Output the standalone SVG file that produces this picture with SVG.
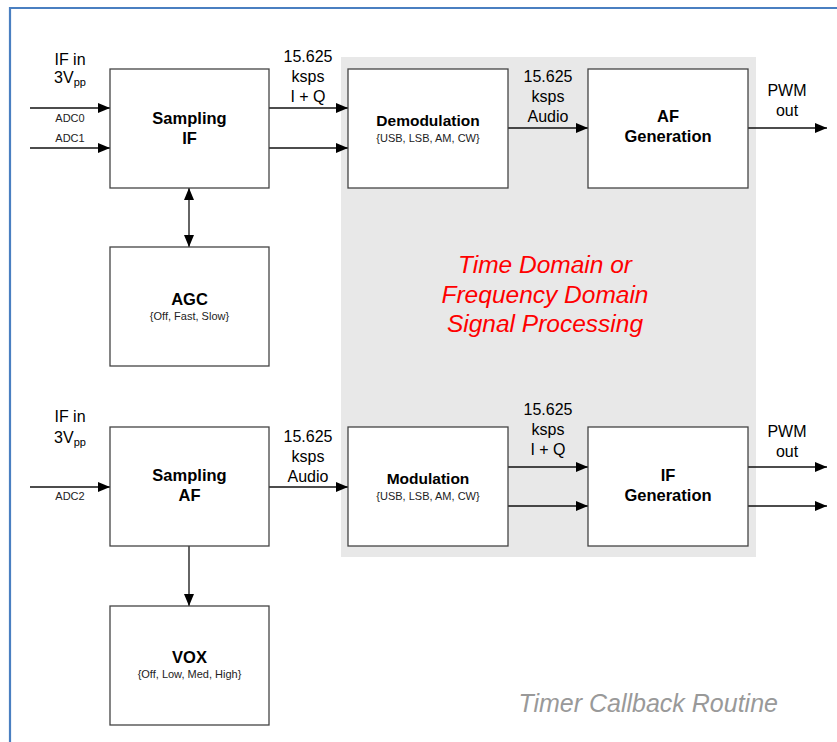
<svg xmlns="http://www.w3.org/2000/svg" width="837" height="742" viewBox="0 0 837 742">
<defs>
<marker id="ah" viewBox="0 0 12 10" refX="12" refY="5" markerWidth="12" markerHeight="10" markerUnits="userSpaceOnUse" orient="auto-start-reverse">
<path d="M0,0 L12,5 L0,10 z" fill="#000"/>
</marker>
<style>
.box{fill:#fff;stroke:#444;stroke-width:1.3}
.ln{stroke:#111;stroke-width:1.3;fill:none;marker-end:url(#ah)}
.t{font-family:"Liberation Sans",Arial,sans-serif;fill:#000;text-anchor:middle}
.lbl{font-size:16px}
.b{font-size:16.5px;font-weight:bold}
.bm{font-size:15.5px;font-weight:bold}
.s{font-size:11px;fill:#222}
.red{font-family:"Liberation Sans",Arial,sans-serif;font-style:italic;font-size:24.5px;fill:#ff0000;text-anchor:middle}
.grey{font-family:"Liberation Sans",Arial,sans-serif;font-style:italic;font-size:25px;fill:#999;text-anchor:end}
</style>
</defs>
<rect width="837" height="742" fill="#fff"/>
<path d="M10,760 L10,8 L860,8" fill="none" stroke="#4a7fc1" stroke-width="2.2"/>
<rect id="panel" x="341" y="57" width="415" height="500" fill="#e8e8e8"/>

<g id="connectors">
<line class="ln" x1="30" y1="108" x2="110" y2="108"/>
<line class="ln" x1="30" y1="148" x2="110" y2="148"/>
<line class="ln" x1="269" y1="108" x2="348" y2="108"/>
<line class="ln" x1="269" y1="148" x2="348" y2="148"/>
<line class="ln" x1="508" y1="128" x2="588" y2="128"/>
<line class="ln" x1="748" y1="128" x2="827" y2="128"/>
<line class="ln" x1="189" y1="188" x2="189" y2="247" style="marker-start:url(#ah)"/>
<line class="ln" x1="30" y1="487" x2="110" y2="487"/>
<line class="ln" x1="269" y1="487" x2="348" y2="487"/>
<line class="ln" x1="508" y1="467" x2="588" y2="467"/>
<line class="ln" x1="508" y1="506" x2="588" y2="506"/>
<line class="ln" x1="748" y1="467" x2="827" y2="467"/>
<line class="ln" x1="748" y1="506" x2="827" y2="506"/>
<line class="ln" x1="189" y1="546" x2="189" y2="606"/>
</g>

<g id="labels">
<text class="t lbl" x="70" y="65">IF in</text>
<text class="t lbl" x="70" y="83">3V<tspan font-size="11" dy="3">pp</tspan></text>
<text class="t s" x="70" y="122">ADC0</text>
<text class="t s" x="70" y="142">ADC1</text>
<text class="t lbl" x="308" y="62">15.625</text>
<text class="t lbl" x="308" y="82">ksps</text>
<text class="t lbl" x="308" y="102">I + Q</text>
<text class="t lbl" x="548" y="82">15.625</text>
<text class="t lbl" x="548" y="102">ksps</text>
<text class="t lbl" x="548" y="122">Audio</text>
<text class="t lbl" x="787" y="96">PWM</text>
<text class="t lbl" x="787" y="116">out</text>
<text class="t lbl" x="70" y="422">IF in</text>
<text class="t lbl" x="70" y="443">3V<tspan font-size="11" dy="3">pp</tspan></text>
<text class="t s" x="70" y="500">ADC2</text>
<text class="t lbl" x="308" y="442">15.625</text>
<text class="t lbl" x="308" y="462">ksps</text>
<text class="t lbl" x="308" y="482">Audio</text>
<text class="t lbl" x="548" y="415">15.625</text>
<text class="t lbl" x="548" y="435">ksps</text>
<text class="t lbl" x="548" y="455">I + Q</text>
<text class="t lbl" x="787" y="437">PWM</text>
<text class="t lbl" x="787" y="457">out</text>
<text class="red" x="545" y="273">Time Domain or</text>
<text class="red" x="545" y="303">Frequency Domain</text>
<text class="red" x="545" y="332">Signal Processing</text>
<text class="grey" x="778" y="712">Timer Callback Routine</text>
</g>

<g id="sampling-if">
<rect class="box" x="110" y="69" width="159" height="119"/>
<text class="t b" x="189.5" y="124">Sampling</text>
<text class="t b" x="189.5" y="144">IF</text>
</g>
<g id="demodulation">
<rect class="box" x="348" y="69" width="160" height="119"/>
<text class="t bm" x="428" y="126">Demodulation</text>
<text class="t s" x="428" y="142">{USB, LSB, AM, CW}</text>
</g>
<g id="af-generation">
<rect class="box" x="588" y="69" width="160" height="119"/>
<text class="t b" x="668" y="122">AF</text>
<text class="t b" x="668" y="142">Generation</text>
</g>
<g id="agc">
<rect class="box" x="110" y="247" width="159" height="119"/>
<text class="t b" x="189.5" y="305">AGC</text>
<text class="t s" x="189.5" y="320">{Off, Fast, Slow}</text>
</g>
<g id="sampling-af">
<rect class="box" x="110" y="427" width="159" height="119"/>
<text class="t b" x="189.5" y="481">Sampling</text>
<text class="t b" x="189.5" y="501">AF</text>
</g>
<g id="modulation">
<rect class="box" x="348" y="427" width="160" height="119"/>
<text class="t bm" x="428" y="484">Modulation</text>
<text class="t s" x="428" y="500">{USB, LSB, AM, CW}</text>
</g>
<g id="if-generation">
<rect class="box" x="588" y="427" width="160" height="119"/>
<text class="t b" x="668" y="481">IF</text>
<text class="t b" x="668" y="501">Generation</text>
</g>
<g id="vox">
<rect class="box" x="110" y="606" width="159" height="119"/>
<text class="t b" x="189.5" y="663">VOX</text>
<text class="t s" x="189.5" y="678">{Off, Low, Med, High}</text>
</g>
</svg>
